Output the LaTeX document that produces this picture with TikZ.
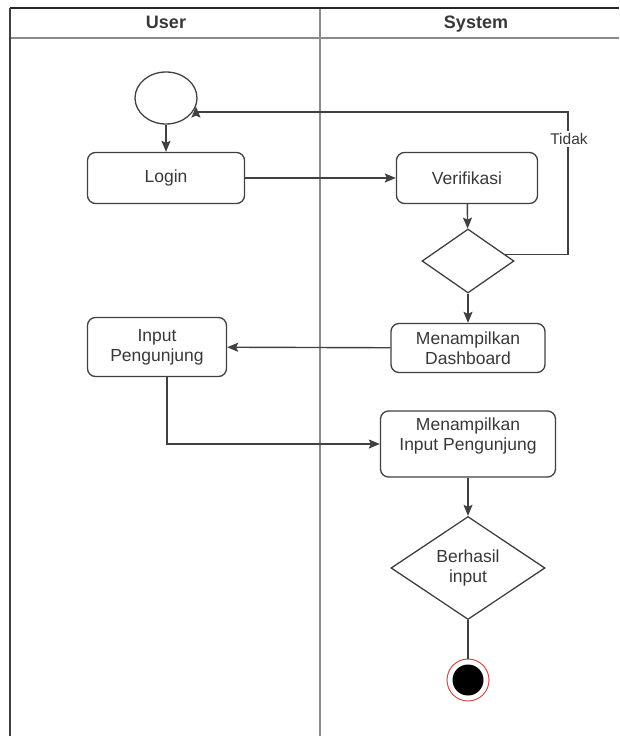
\documentclass[tikz,border=0pt]{standalone}
\usepackage{fontspec}
\setmainfont{Liberation Sans}
\usetikzlibrary{arrows.meta, positioning, shapes.geometric}
\definecolor{garis}{HTML}{404040}
\definecolor{teks}{HTML}{383838}
\definecolor{lajur}{HTML}{8A8A8A}
\definecolor{merah}{HTML}{D24A4A}

\begin{document}
\begin{tikzpicture}[x=1pt, y=-1pt, >={Stealth[length=11pt,width=9pt,inset=2pt]},
    every node/.style={font=\fontsize{17.5}{20}\selectfont, text=teks},
    judul/.style={font=\fontsize{18}{20}\selectfont\bfseries, anchor=base},
    aksi/.style={draw=garis, line width=1.3pt, rounded corners=8pt, align=center, inner sep=0pt},
    cabang/.style={diamond, draw=garis, line width=1.3pt, align=center, inner sep=0pt},
    alur/.style={draw=garis, line width=1.4pt}]
    \useasboundingbox (0,0) rectangle (619,736);

    % Swimlane frame
    \draw[lajur, line width=2pt] (10,38) -- (619,38);
    \draw[lajur, line width=2pt] (320,8) -- (320,736);
    \draw[black!85, line width=1.5pt] (10,8) -- (619,8);
    \draw[garis, line width=1.5pt] (10,8) -- (10,736);
    \node[judul] (user) at (166,28) {User};
    \node[judul] (system) at (476,28) {System};

    % Activities
    \node[ellipse, draw=garis, line width=1.3pt, minimum width=62pt, minimum height=52pt] (start) at (166,98) {};
    \node[aksi, minimum width=157pt, minimum height=51pt] (login) at (166,178) {Login};
    \node[aksi, minimum width=141pt, minimum height=51pt] (verif) at (467,178) {Verifikasi};
    \node[cabang, minimum width=92pt, minimum height=64pt] (cek) at (468,261) {};
    \node[aksi, minimum width=154pt, minimum height=49pt] (dashboard) at (468,348) {Menampilkan\\Dashboard};
    \node[aksi, minimum width=139pt, minimum height=59pt] (input) at (157,347) {Input\\Pengunjung};
    \node[aksi, minimum width=175pt, minimum height=66pt] (tampil) at (468,444) {Menampilkan\\Input Pengunjung\\~};
    \node[cabang, minimum width=154pt, minimum height=103pt] (berhasil) at (468,568) {Berhasil\\input};
    \node[circle, draw=merah, line width=1pt, minimum size=42pt,
      path picture={\fill[black] (path picture bounding box.center) circle (15.5pt);}] (finish) at (468,680) {};

    % Flow
    \coordinate (tikung) at (568,112);
    \draw[alur, ->] (start) -- (login);
    \draw[alur, ->] (login) -- (verif);
    \draw[alur, ->] (verif) -- (cek);
    \draw[alur, ->] (cek.10) -| (tikung) -| (start.-16);
    \node[fill=white, inner sep=2pt, font=\fontsize{15.5}{18}\selectfont] (tidak) at (569,139) {Tidak};
    \draw[alur, ->] (cek) -- (dashboard);
    \draw[alur, ->] (dashboard) -- (input);
    \draw[alur, ->] ([xshift=10pt]input.south) |- (tampil.west);
    \draw[alur, ->] (tampil) -- (berhasil);
    \draw[alur] (berhasil) -- (finish);
  \end{tikzpicture}
\end{document}
